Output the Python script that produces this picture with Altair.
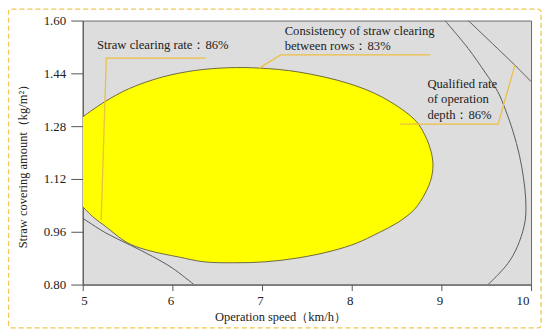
import altair as alt
import pandas as pd

# ---- data ----
# yellow region (all three indices satisfied), boundary traced clockwise
ellipse_x = [5.00, 5.24, 5.52, 5.89, 6.26, 6.63, 6.97, 7.41, 7.97, 8.34, 8.67, 8.76, 8.86, 8.905,
             8.89, 8.82, 8.70, 8.52, 8.30, 8.05, 7.78, 7.41, 7.04, 6.67, 6.35, 6.08, 5.71, 5.49,
             5.26, 5.11, 5.00]
ellipse_y = [1.308, 1.353, 1.394, 1.429, 1.449, 1.457, 1.456, 1.444, 1.409, 1.368, 1.308, 1.280, 1.225, 1.172,
             1.125, 1.077, 1.028, 0.989, 0.957, 0.925, 0.902, 0.881, 0.869, 0.866, 0.869, 0.883, 0.905, 0.928,
             0.975, 1.006, 1.036]

# contour lines
clear_x = [5.00, 5.26, 5.52, 5.78, 6.00, 6.24]
clear_y = [1.001, 0.956, 0.921, 0.885, 0.850, 0.800]

depth_x = [9.04, 9.30, 9.485, 9.63, 9.71, 9.80, 9.87, 9.915, 9.94, 9.935, 9.87, 9.77, 9.65, 9.52]
depth_y = [1.600, 1.515, 1.444, 1.384, 1.333, 1.263, 1.192, 1.125, 1.060, 0.995, 0.930, 0.875, 0.835, 0.800]

cons_x = [9.30, 9.67, 9.86, 10.0]
cons_y = [1.600, 1.504, 1.454, 1.415]

# callout leader lines
lead1_x = [6.37, 5.263, 5.206]
lead1_y = [1.486, 1.486, 0.996]
lead2_x = [8.874, 7.208, 6.967]
lead2_y = [1.496, 1.496, 1.456]
lead3_x = [8.541, 9.633, 9.819]
lead3_y = [1.286, 1.286, 1.464]

# annotations
ann_text = ["Straw clearing rate：86%",
            "Consistency of straw clearing", "between rows：83%",
            "Qualified rate", "of operation", "depth：86%"]
ann_x = [5.159, 7.252, 7.252, 8.844, 8.844, 8.844]
ann_y = [1.515, 1.555, 1.510, 1.395, 1.349, 1.303]

x_ticks = [5, 6, 7, 8, 9, 10]
y_ticks = [0.80, 0.96, 1.12, 1.28, 1.44, 1.60]

# ---- tables ----
ell = pd.DataFrame({"x": ellipse_x, "y": ellipse_y, "o": range(len(ellipse_x))})

rows = []
for name, xs, ys in [("clear", clear_x, clear_y), ("depth", depth_x, depth_y), ("cons", cons_x, cons_y)]:
    for i, (a, b) in enumerate(zip(xs, ys)):
        rows.append({"c": name, "x": a, "y": b, "o": i})
curves = pd.DataFrame(rows)

rows = []
for name, xs, ys in [("l1", lead1_x, lead1_y), ("l2", lead2_x, lead2_y), ("l3", lead3_x, lead3_y)]:
    for i, (a, b) in enumerate(zip(xs, ys)):
        rows.append({"c": name, "x": a, "y": b, "o": i})
leads = pd.DataFrame(rows)

ann = pd.DataFrame({"t": ann_text, "x": ann_x, "y": ann_y})

FONT = "'Liberation Serif', 'Times New Roman', Times, serif"
xs = alt.Scale(domain=[5, 10], nice=False, zero=False)
ys = alt.Scale(domain=[0.8, 1.6], nice=False, zero=False)

xax = alt.Axis(values=x_ticks, format="d", title="Operation speed（km/h）", grid=False,
               tickSize=6, labelPadding=4, labelOffset=-2,
               titleX=198, titleY=36, titleAlign="center", titleBaseline="alphabetic")
yax = alt.Axis(values=y_ticks, format=".2f", title="Straw covering amount（kg/m²）", grid=False,
               tickSize=12, labelPadding=5,
               titleX=-60, titleY=143, titleAngle=270, titleAlign="center", titleBaseline="middle")

ellipse = alt.Chart(ell).mark_line(
    fill="#FFFF00", stroke="#6F6A3C", strokeWidth=1, interpolate="catmull-rom", clip=True
).encode(
    x=alt.X("x:Q", scale=xs, axis=xax),
    y=alt.Y("y:Q", scale=ys, axis=yax),
    order="o:Q",
)

curve_lines = alt.Chart(curves).mark_line(
    stroke="#5A5A5A", strokeWidth=1, interpolate="catmull-rom", clip=True
).encode(
    x=alt.X("x:Q", scale=xs),
    y=alt.Y("y:Q", scale=ys),
    detail="c:N",
    order="o:Q",
)

lead_lines = alt.Chart(leads).mark_line(
    stroke="#EDBF45", strokeWidth=1.3, clip=True
).encode(
    x=alt.X("x:Q", scale=xs),
    y=alt.Y("y:Q", scale=ys),
    detail="c:N",
    order="o:Q",
)

texts = alt.Chart(ann).mark_text(
    align="left", baseline="alphabetic", font=FONT, fontSize=12.7, color="#222222"
).encode(
    x=alt.X("x:Q", scale=xs),
    y=alt.Y("y:Q", scale=ys),
    text="t:N",
)

border = alt.Chart(pd.DataFrame({"a": [0]})).mark_rect(
    fill="transparent", stroke="#F0C850", strokeWidth=1.3, strokeDash=[5, 3], cornerRadius=3
).encode(
    x=alt.value(-74.5), x2=alt.value(460), y=alt.value(-11.5), y2=alt.value(308.5)
)

chart = alt.layer(ellipse, curve_lines, lead_lines, texts, border).properties(
    width=450, height=265,
    autosize=alt.AutoSizeParams(type="none"),
    padding={"left": 75, "top": 12, "right": 11, "bottom": 45},
).configure_view(
    fill="#DDDDDD", stroke="#6A6A6A", strokeWidth=1
).configure_axis(
    domainColor="#555555", tickColor="#555555", labelColor="#222222", titleColor="#222222",
    labelFont=FONT, labelFontSize=13, titleFont=FONT, titleFontSize=12.5, titleFontWeight="normal",
)

chart.save("out.html", embed_options={"renderer": "svg", "actions": False})
